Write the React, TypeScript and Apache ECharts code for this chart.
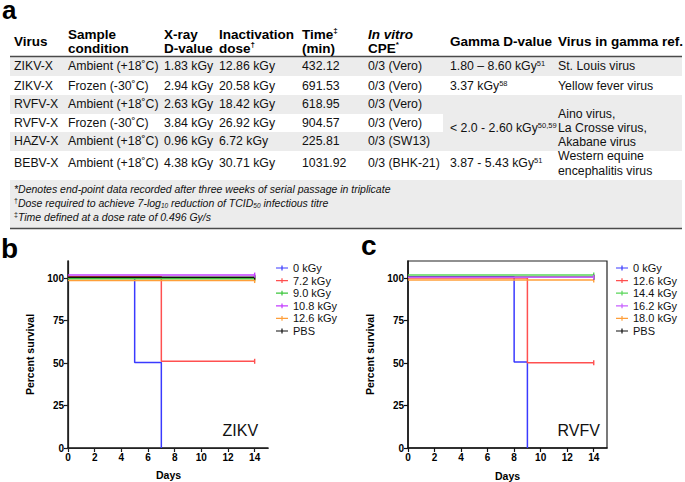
import React, { useEffect, useRef } from 'react';
import * as echarts from 'echarts';

const FONT = '"Liberation Sans", Arial, Helvetica, sans-serif';

// ---------- Table (panel a) ----------
const headerLines: string[][] = [
  ['Virus'],
  ['Sample', 'condition'],
  ['X-ray', 'D-value'],
  ['Inactivation', '{h|dose}{hs|†}'],
  ['{h|Time}{hs|‡}', '(min)'],
  ['{hi|In vitro}', '{h|CPE}{hs|*}'],
  ['Gamma D-value'],
  ['Virus in gamma ref.'],
];
const tableVirus = ['ZIKV-X', 'ZIKV-X', 'RVFV-X', 'RVFV-X', 'HAZV-X', 'BEBV-X'];
const tableCondition = ['Ambient (+18˚C)', 'Frozen (-30˚C)', 'Ambient (+18˚C)', 'Frozen (-30˚C)', 'Ambient (+18˚C)', 'Ambient (+18˚C)'];
const tableXrayD = ['1.83 kGy', '2.94 kGy', '2.63 kGy', '3.84 kGy', '0.96 kGy', '4.38 kGy'];
const tableDose = ['12.86 kGy', '20.58 kGy', '18.42 kGy', '26.92 kGy', '6.72 kGy', '30.71 kGy'];
const tableTime = ['432.12', '691.53', '618.95', '904.57', '225.81', '1031.92'];
const tableCPE = ['0/3 (Vero)', '0/3 (Vero)', '0/3 (Vero)', '0/3 (Vero)', '0/3 (SW13)', '0/3 (BHK-21)'];
const gammaDValue = ['1.80 – 8.60 kGy', '3.37 kGy', '< 2.0 - 2.60 kGy', '3.87 - 5.43 kGy'];
const gammaRef = ['51', '58', '50,59', '51'];
const gammaVirus: string[][] = [
  ['St. Louis virus'],
  ['Yellow fever virus'],
  ['Aino virus,', 'La Crosse virus,', 'Akabane virus'],
  ['Western equine', 'encephalitis virus'],
];
const footnotes = [
  '{f|*Denotes end-point data recorded after three weeks of serial passage in triplicate}',
  '{fs|†}{f|Dose required to achieve 7-log}{fb|10}{f| reduction of TCID}{fb|50}{f| infectious titre}',
  '{fs|‡}{f|Time defined at a dose rate of 0.496 Gy/s}',
];

// ---------- Survival (panels b, c) ----------
const dayTicks = [0, 2, 4, 6, 8, 10, 12, 14];
const survivalTicks = [0, 25, 50, 75, 100];
const zikvNames = ['0 kGy', '7.2 kGy', '9.0 kGy', '10.8 kGy', '12.6 kGy', 'PBS'];
const zikvColors = ['#3a3aff', '#ff5050', '#3cc63c', '#c43cff', '#ff9f3a', '#111111'];
const zikvSurvival: number[][][] = [
  [[0, 100.5], [5, 50.3], [7, 0]],
  [[0, 100.8], [7, 51], [14, 51]],
  [[0, 99.5], [14, 99.5]],
  [[0, 101.7], [14, 101.7]],
  [[0, 98.5], [14, 98.5]],
  [[0, 100.5], [14, 100.5]],
];
const rvfvNames = ['0 kGy', '12.6 kGy', '14.4 kGy', '16.2 kGy', '18.0 kGy', 'PBS'];
const rvfvColors = ['#3a3aff', '#ff5050', '#5ad65a', '#c860ff', '#ff9f3a', '#111111'];
const rvfvSurvival: number[][][] = [
  [[0, 100.6], [8, 50.6], [9, 0]],
  [[0, 100], [9, 50.2], [14, 50.2]],
  [[0, 101.7], [14, 101.7]],
  [[0, 100.4], [14, 100.4]],
  [[0, 98.8], [14, 98.8]],
  [[0, 100.5], [14, 100.5]],
];

function buildTableGraphics(): any[] {
  const els: any[] = [];
  const colX = [14, 68, 164, 219, 302, 368, 450, 558];
  const rowY = [66, 86, 104, 123, 141, 163];
  const grey = '#ececec';
  const bgs = [
    [10, 57, 672, 19],
    [10, 95, 672, 19],
    [443, 114, 239, 18],
    [10, 132, 672, 19],
    [10, 180, 672, 48],
  ];
  bgs.forEach(([x, y, w, h]) =>
    els.push({ type: 'rect', shape: { x, y, width: w, height: h }, style: { fill: grey }, silent: true })
  );
  [56.5, 228.5].forEach((y) =>
    els.push({ type: 'line', shape: { x1: 10, y1: y, x2: 682, y2: y }, style: { stroke: '#4a4a4a', lineWidth: 1.5 } })
  );
  const hRich = {
    h: { fontFamily: FONT, fontSize: 13.5, fontWeight: 'bold', fill: '#000', lineHeight: 15 },
    hi: { fontFamily: FONT, fontSize: 13.5, fontWeight: 'bold', fontStyle: 'italic', fill: '#000', lineHeight: 15 },
    hs: { fontFamily: FONT, fontSize: 8, fontWeight: 'bold', fill: '#000', lineHeight: 8, verticalAlign: 'top' },
  };
  headerLines.forEach((lines, c) => {
    const ys = lines.length === 1 ? [41] : [34, 48];
    lines.forEach((t, i) => {
      const txt = t.indexOf('{') === 0 ? t : `{h|${t}}`;
      els.push({ type: 'text', x: colX[c], y: ys[i], style: { text: txt, rich: hRich, verticalAlign: 'middle', align: 'left' } });
    });
  });
  const cellStyle = { fontFamily: FONT, fontSize: 12.3, fill: '#111', verticalAlign: 'middle', align: 'left' };
  const cols = [tableVirus, tableCondition, tableXrayD, tableDose, tableTime, tableCPE];
  cols.forEach((col, c) => {
    col.forEach((t, r) => {
      els.push({ type: 'text', x: colX[c], y: rowY[r], style: { ...cellStyle, text: t } });
    });
  });
  const gRich = {
    g: { fontFamily: FONT, fontSize: 12.3, fill: '#111', lineHeight: 14 },
    s: { fontFamily: FONT, fontSize: 7.5, fill: '#111', lineHeight: 8, verticalAlign: 'top' },
  };
  const gammaY = [66, 86, 128, 163];
  const refY = [[66], [86], [114, 128, 142], [156, 171]];
  gammaDValue.forEach((t, i) => {
    els.push({ type: 'text', x: colX[6], y: gammaY[i], style: { text: `{g|${t}}{s|${gammaRef[i]}}`, rich: gRich, verticalAlign: 'middle' } });
    gammaVirus[i].forEach((v, j) => {
      els.push({ type: 'text', x: colX[7], y: refY[i][j], style: { ...cellStyle, text: v } });
    });
  });
  const fRich = {
    f: { fontFamily: FONT, fontSize: 10.5, fontStyle: 'italic', fill: '#111', lineHeight: 12 },
    fs: { fontFamily: FONT, fontSize: 7, fill: '#111', lineHeight: 7, verticalAlign: 'top' },
    fb: { fontFamily: FONT, fontSize: 6.5, fontStyle: 'italic', fill: '#111', lineHeight: 7, verticalAlign: 'bottom' },
  };
  const fy = [189, 203, 217];
  footnotes.forEach((t, i) => {
    els.push({ type: 'text', x: 14, y: fy[i], style: { text: t, rich: fRich, verticalAlign: 'middle' } });
  });
  return els;
}

function App() {
  const ref = useRef<HTMLDivElement>(null);
  useEffect(() => {
    if (!ref.current) return;
    const chart = echarts.init(ref.current, undefined, { renderer: 'svg' });
    const grids: any[] = [
      { left: 68, top: 261, width: 200, height: 187 },
      { left: 408, top: 261, width: 199, height: 187, show: true, borderColor: '#222', borderWidth: 1.2, backgroundColor: 'transparent' },
    ];
    const nameStyle = { fontFamily: FONT, fontSize: 10.5, fontWeight: 'bold', color: '#000' };
    const xAxis: any[] = [];
    const yAxis: any[] = [];
    grids.forEach((_, gi) => {
      const withName = gi === 1;
      xAxis.push({
        gridIndex: gi, type: 'value', min: 0, max: 15, position: 'bottom',
        name: withName ? 'Days' : '', nameLocation: 'middle', nameGap: 22, nameTextStyle: nameStyle,
        axisLine: { show: true, lineStyle: { color: '#111', width: 1.5 } },
        axisTick: { show: true, inside: false, length: 4, customValues: dayTicks, lineStyle: { color: '#111', width: 1.2 } },
        axisLabel: { fontFamily: FONT, fontSize: 10, fontWeight: 'bold', color: '#000', margin: 4, customValues: dayTicks },
        splitLine: { show: false },
      });
      yAxis.push({
        gridIndex: gi, type: 'value', min: 0, max: 110, position: 'left',
        name: withName ? 'Percent survival' : '', nameLocation: 'middle', nameGap: 33, nameTextStyle: nameStyle,
        axisLine: { show: true, lineStyle: { color: '#111', width: 1.5 } },
        axisTick: { show: true, inside: false, length: 4, customValues: survivalTicks, lineStyle: { color: '#111', width: 1.2 } },
        axisLabel: { fontFamily: FONT, fontSize: 10, fontWeight: 'bold', color: '#000', margin: 4, customValues: survivalTicks },
        splitLine: { show: false },
      });
    });
    // inner-tick frame for panel b
    xAxis.push({
      gridIndex: 0, type: 'value', min: 0, max: 15, position: 'top',
      axisLine: { show: true, lineStyle: { color: '#222', width: 1.2 } },
      axisTick: { show: true, inside: true, length: 3, customValues: dayTicks, lineStyle: { color: '#222', width: 1 } },
      axisLabel: { show: false }, splitLine: { show: false },
    });
    yAxis.push({
      gridIndex: 0, type: 'value', min: 0, max: 110, position: 'right',
      axisLine: { show: true, lineStyle: { color: '#222', width: 1.2 } },
      axisTick: { show: true, inside: true, length: 3, customValues: survivalTicks, lineStyle: { color: '#222', width: 1 } },
      axisLabel: { show: false }, splitLine: { show: false },
    });

    const makeSeries = (names: string[], colors: string[], data: number[][][], gi: number) =>
      names.map((name, i) => ({
        type: 'line', name, xAxisIndex: gi, yAxisIndex: gi, step: 'end',
        data: data[i],
        color: colors[i],
        lineStyle: { color: colors[i], width: 1.5 },
        itemStyle: { color: colors[i] },
        symbol: (v: number[], p: any) => (p.dataIndex === data[i].length - 1 && v[1] > 0 ? 'rect' : 'none'),
        symbolSize: [1.4, 5],
        showSymbol: true,
        z: i === 3 ? 5 : 3,
        silent: true,
      }));

    const legendIcon = 'path://M0,2.4h12v1.2H0z M5.4,0.6h1.2v4.8H5.4z';
    const makeLegend = (names: string[], colors: string[], left: number) => ({
      orient: 'vertical', left, top: 261.7, padding: 0, itemGap: 0,
      itemWidth: 12, itemHeight: 5, icon: legendIcon,
      data: names.map((n, i) => ({ name: n, itemStyle: { color: colors[i] } })),
      textStyle: { fontFamily: FONT, fontSize: 11, color: '#111', lineHeight: 12.6 },
      selectedMode: false,
    });

    const panelLabel = (t: string, x: number, y: number, size = 28, lh?: number) => ({
      type: 'text', x, y, style: { text: t, fontFamily: FONT, fontSize: size, fontWeight: 'bold', fill: '#000', verticalAlign: 'middle', lineHeight: lh },
    });
    const virusLabel = (t: string, x: number, y: number) => ({
      type: 'text', x, y, style: { text: t, fontFamily: FONT, fontSize: 16, fill: '#111', verticalAlign: 'middle' },
    });
    const axisTitle = (t: string, x: number, y: number, rot = 0) => ({
      type: 'text', x, y, rotation: rot,
      style: { text: t, fontFamily: FONT, fontSize: 10.5, fontWeight: 'bold', fill: '#000', align: 'center', verticalAlign: 'middle' },
    });

    chart.setOption({
      animation: false,
      backgroundColor: '#fff',
      grid: grids,
      xAxis, yAxis,
      legend: [makeLegend(zikvNames, zikvColors, 276), makeLegend(rvfvNames, rvfvColors, 616)],
      series: [
        ...makeSeries(zikvNames, zikvColors, zikvSurvival, 0),
        ...makeSeries(rvfvNames, rvfvColors, rvfvSurvival, 1),
      ],
      graphic: [
        ...buildTableGraphics(),
        panelLabel('a', 2, 9.5, 26, 17),
        panelLabel('b', 1, 248.3),
        panelLabel('c', 361, 245.5),
        virusLabel('ZIKV', 222.5, 430),
        virusLabel('RVFV', 557.5, 430),
        axisTitle('Percent survival', 29.5, 354.5, Math.PI / 2),
        axisTitle('Days', 168.5, 475),
      ],
    });
    return () => chart.dispose();
  }, []);
  return <div ref={ref} style={{ position: 'fixed', left: 0, top: 0, width: 685, height: 482, background: '#fff' }} />;
}

export default App;
